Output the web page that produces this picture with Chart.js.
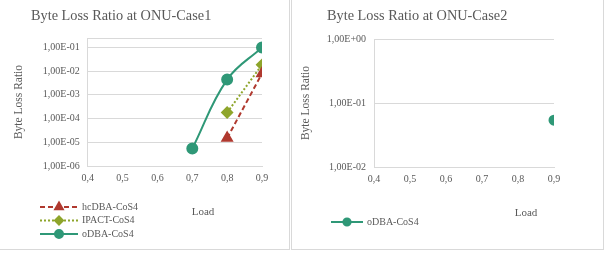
<!DOCTYPE html>
<html>
<head>
<meta charset="utf-8">
<script src="https://cdn.jsdelivr.net/npm/chart.js@4.4.1/dist/chart.umd.min.js"></script>
<style>
  html, body { margin: 0; padding: 0; background: #fff; }
  .panel { position: absolute; top: 0; height: 249px; background: #fff; box-sizing: content-box; }
  #p1 { left: 0; width: 289px; border-right: 1px solid #d9d9d9; border-bottom: 1px solid #d9d9d9; }
  #p2 { left: 291px; width: 311px; border-left: 1px solid #d9d9d9; border-right: 1px solid #d9d9d9; border-bottom: 1px solid #d9d9d9; }
  canvas { display: block; }
</style>
</head>
<body>
<div class="panel" id="p1"><canvas id="case1" width="289" height="249"></canvas></div>
<div class="panel" id="p2"><canvas id="case2" width="311" height="249"></canvas></div>
<script>
// load values on the x axis
const loads = [0.4, 0.5, 0.6, 0.7, 0.8, 0.9];

// case 1 byte loss ratio (null = no value)
const hcDBA1 = [null, null, null, null, 1.5e-5, 8e-3];
const ipact1 = [null, null, null, null, 1.8e-4, 1.85e-2];
const oDBA1 = [null, null, null, 5.5e-6, 4.4e-3, 1e-1];

// case 2 byte loss ratio
const oDBA2 = [null, null, null, null, null, 5.4e-2];

const yTicks1 = [1e-6, 1e-5, 1e-4, 1e-3, 1e-2, 1e-1];
const yTicks2 = [1e-2, 1e-1, 1];

const font = "'Liberation Serif', 'DejaVu Serif', serif";
const textColor = '#595959';
const gridColor = '#d9d9d9';
const red = '#b0392f';
const olive = '#8ea52b';
const teal = '#2f9877';

function points(values) {
  return loads.map((x, i) => ({ x: x, y: values[i] })).filter(p => p.y !== null);
}

function sciLabel(v) {
  const e = Math.round(Math.log10(v));
  const s = e < 0 ? '-' : '+';
  return '1,00E' + s + String(Math.abs(e)).padStart(2, '0');
}

const panelText = {
  id: 'panelText',
  afterDraw(chart, args, opts) {
    const ctx = chart.ctx;
    ctx.save();
    ctx.fillStyle = textColor;
    ctx.textBaseline = 'middle';
    ctx.textAlign = 'left';
    ctx.font = '14.3px ' + font;
    ctx.fillText(opts.title, opts.titleX, opts.titleY);
    ctx.font = '11px ' + font;
    ctx.textAlign = 'center';
    ctx.fillText('Load', opts.loadX, opts.loadY);

    ctx.font = '10px ' + font;
    chart.data.datasets.forEach((ds, i) => {
      const y = opts.legendY + i * 13.5;
      const x0 = opts.legendX;
      ctx.strokeStyle = ds.borderColor;
      ctx.lineWidth = ds.borderWidth;
      ctx.setLineDash(ds.borderDash || []);
      ctx.beginPath();
      ctx.moveTo(x0, y);
      ctx.lineTo(x0 + opts.legendW, y);
      ctx.stroke();
      ctx.setLineDash([]);
      ctx.fillStyle = ds.pointBackgroundColor;
      ctx.strokeStyle = ds.pointBorderColor;
      Chart.helpers.drawPoint(ctx, {
        pointStyle: ds.pointStyle, radius: ds.legendRadius, rotation: 0, borderWidth: 1
      }, x0 + opts.legendW / 2, y);
      ctx.fillStyle = textColor;
      ctx.textAlign = 'left';
      ctx.fillText(ds.label, x0 + opts.legendW + 4, y);
    });
    ctx.restore();
  }
};

function series(label, values, color, style, dash, radius, tension) {
  return {
    label: label,
    data: points(values),
    borderColor: color,
    backgroundColor: color,
    pointBackgroundColor: color,
    pointBorderColor: color,
    borderWidth: 2,
    borderDash: dash,
    pointStyle: style,
    pointRadius: radius,
    legendRadius: radius * 0.8,
    tension: tension
  };
}

function makeOptions(yMin, yMax, yTicks, text, pad, titleGap) {
  return {
    responsive: false,
    animation: false,
    layout: { padding: pad },
    plugins: {
      legend: { display: false },
      tooltip: { enabled: false },
      panelText: text
    },
    scales: {
      x: {
        type: 'linear',
        min: 0.4,
        max: 0.9,
        grid: { display: false, drawTicks: false },
        border: { display: true, color: gridColor, width: 1 },
        ticks: {
          stepSize: 0.1,
          padding: 6,
          color: textColor,
          font: { family: font, size: 10 },
          callback: v => v.toFixed(1).replace('.', ',')
        }
      },
      y: {
        type: 'logarithmic',
        min: yMin,
        max: yMax,
        afterBuildTicks: axis => {
          const t = yTicks.slice();
          if (yMax > t[t.length - 1]) t.push(yMax);
          axis.ticks = t.map(v => ({ value: v }));
        },
        grid: { color: gridColor, drawTicks: false },
        border: { display: true, color: gridColor, width: 1 },
        title: {
          display: true,
          text: 'Byte Loss Ratio',
          color: textColor,
          font: { family: font, size: 11.5 },
          padding: { top: 0, bottom: titleGap }
        },
        ticks: {
          padding: 8,
          color: textColor,
          font: { family: font, size: 10 },
          callback: v => (yTicks.includes(v) ? sciLabel(v) : '')
        }
      }
    }
  };
}

new Chart(document.getElementById('case1'), {
  type: 'line',
  data: {
    datasets: [
      series('hcDBA-CoS4', hcDBA1, red, 'triangle', [5, 3], 5.5, 0),
      series('IPACT-CoS4', ipact1, olive, 'rectRot', [2, 2], 5, 0),
      series('oDBA-CoS4', oDBA1, teal, 'circle', [], 5, 0.4)
    ]
  },
  options: makeOptions(1e-6, 0.25, yTicks1, {
    title: 'Byte Loss Ratio at ONU-Case1', titleX: 31, titleY: 16,
    loadX: 203, loadY: 212,
    legendX: 40, legendY: 207, legendW: 38
  }, { left: 12, top: 38, right: 27, bottom: 59 }, 9),
  plugins: [panelText]
});

new Chart(document.getElementById('case2'), {
  type: 'line',
  data: {
    datasets: [
      series('oDBA-CoS4', oDBA2, teal, 'circle', [], 4.5, 0)
    ]
  },
  options: makeOptions(1e-2, 1, yTicks2, {
    title: 'Byte Loss Ratio at ONU-Case2', titleX: 35, titleY: 16,
    loadX: 234, loadY: 213,
    legendX: 39, legendY: 222, legendW: 32
  }, { left: 7, top: 39, right: 49, bottom: 58 }, 6),
  plugins: [panelText]
});
</script>
</body>
</html>
